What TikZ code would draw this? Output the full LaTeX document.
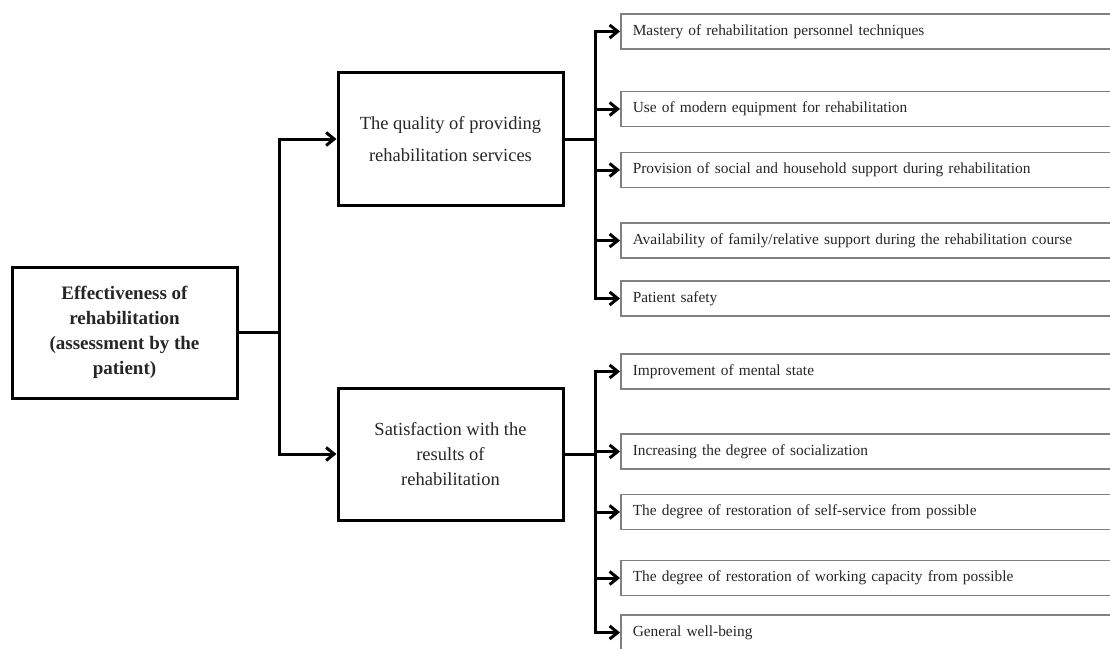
\documentclass[tikz,border=0pt]{standalone}
\usepackage{fontspec}
\setmainfont{Liberation Serif}
\usetikzlibrary{arrows.meta}

\begin{document}
\begin{tikzpicture}[
x=1pt,y=-1pt,
box/.style={rectangle,draw,line width=3pt,align=center,minimum width=225pt,text=black!85},
leaf/.style={rectangle,draw=black!50,line width=1.5pt,anchor=west,minimum height=35pt,
  text width=500pt,inner xsep=12pt,align=left,text=black!85,font=\fontsize{15.4}{18}\selectfont},
conn/.style={line width=3pt,-{Straight Barb[length=8pt,width=13pt]}}
]
\useasboundingbox[clip] (0,0) rectangle (1110,648);

\node[box,minimum height=131pt,font=\bfseries\fontsize{19}{25}\selectfont] (effect) at (124.5,332.5)
  {Effectiveness of\\rehabilitation\\(assessment by the\\patient)};
\node[box,minimum height=133pt,font=\fontsize{18.5}{32}\selectfont] (quality) at (450.5,139)
  {The quality of providing\\rehabilitation services};
\node[box,minimum height=132pt,font=\fontsize{18.5}{25}\selectfont] (satisf) at (450.5,454)
  {Satisfaction with the\\results of\\rehabilitation};

\node[leaf] (q1) at (620,31.5) {Mastery of rehabilitation personnel techniques};
\node[leaf] (q2) at (620,109) {Use of modern equipment for rehabilitation};
\node[leaf] (q3) at (620,170) {Provision of social and household support during rehabilitation};
\node[leaf] (q4) at (620,240.5) {Availability of family/relative support during the rehabilitation course};
\node[leaf] (q5) at (620,298.5) {Patient safety};
\node[leaf] (s1) at (620,371.5) {Improvement of mental state};
\node[leaf] (s2) at (620,451.5) {Increasing the degree of socialization};
\node[leaf] (s3) at (620,512) {The degree of restoration of self-service from possible};
\node[leaf] (s4) at (620,578) {The degree of restoration of working capacity from possible};
\node[leaf] (s5) at (620,632.5) {General well-being};

\draw[conn] (effect.east) -- ++(41,0) |- (quality.west);
\draw[conn] (effect.east) -- ++(41,0) |- (satisf.west);
\foreach \i in {1,...,5} {
  \draw[conn] (quality.east) -- ++(31,0) |- (q\i.west);
  \draw[conn] (satisf.east) -- ++(31,0) |- (s\i.west);
}

\end{tikzpicture}
\end{document}
